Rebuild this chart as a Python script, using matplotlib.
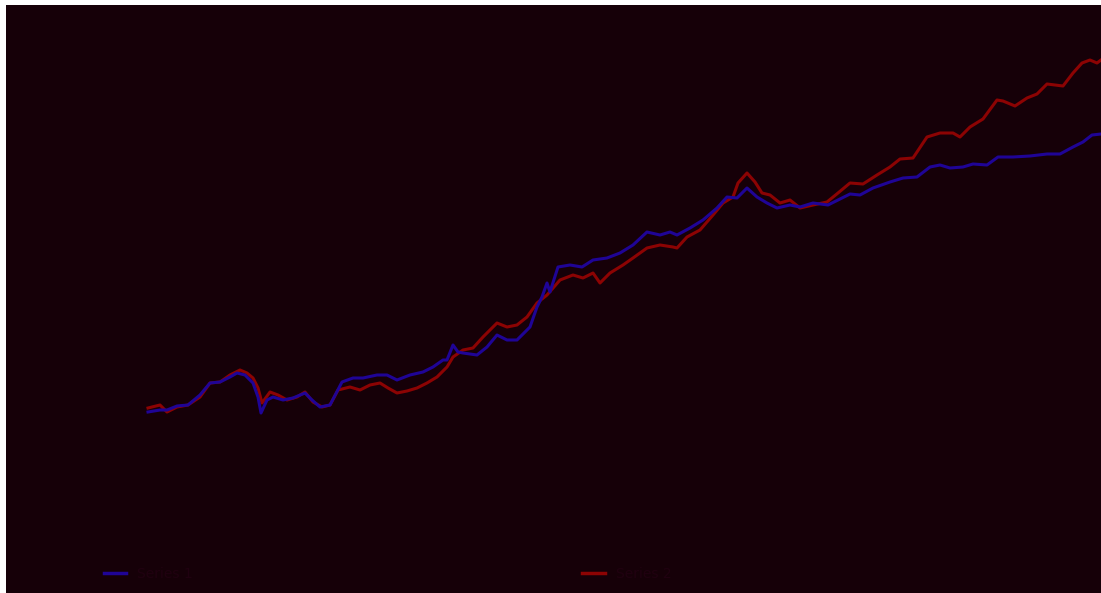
import matplotlib
matplotlib.use("Agg")
import matplotlib.pyplot as plt
from matplotlib.lines import Line2D

# period index (x) and index level (y) for each series
x_red = [148, 160, 167, 177, 188, 200, 210, 220, 230, 240, 247, 253, 258, 262, 270, 278,
         287, 297, 305, 313, 322, 330, 338, 350, 360, 370, 380, 388, 397, 407, 417, 427,
         437, 447, 453, 463, 473, 483, 497, 507, 517, 527, 537, 547, 560, 573, 583, 593,
         600, 610, 623, 633, 647, 660, 673, 677, 687, 700, 713, 723, 733, 738, 747, 755,
         762, 770, 780, 790, 800, 813, 827, 838, 850, 863, 877, 890, 900, 913, 927, 940,
         953, 960, 970, 983, 997, 1003, 1015, 1027, 1037, 1047, 1063, 1073, 1082, 1090,
         1097, 1101]
y_red_px = [408, 405, 412, 407, 405, 397, 383, 382, 375, 370, 373, 378, 388, 403, 392, 395,
            400, 397, 392, 402, 407, 405, 390, 387, 390, 385, 383, 388, 393, 391, 388, 383,
            377, 367, 357, 350, 348, 337, 323, 327, 325, 317, 303, 295, 280, 275, 278, 273,
            283, 273, 265, 258, 248, 245, 247, 248, 237, 230, 215, 203, 197, 183, 173, 182,
            193, 195, 203, 200, 208, 205, 202, 193, 183, 184, 175, 167, 159, 158, 137, 133,
            133, 137, 127, 119, 100, 101, 106, 98, 94, 84, 86, 73, 63, 60, 63, 60]

x_blue = [148, 160, 167, 177, 188, 200, 210, 220, 230, 237, 245, 253, 258, 261, 267, 273,
          283, 293, 305, 312, 320, 330, 342, 353, 363, 377, 387, 397, 410, 423, 433, 443,
          447, 453, 458, 463, 477, 487, 497, 507, 517, 530, 537, 542, 547, 550, 558, 570,
          582, 593, 607, 620, 633, 647, 660, 670, 677, 690, 703, 717, 727, 737, 747, 757,
          767, 777, 790, 800, 813, 828, 840, 850, 860, 873, 890, 903, 917, 930, 940, 950,
          963, 973, 987, 998, 1013, 1030, 1047, 1060, 1073, 1083, 1092, 1101]
y_blue_px = [412, 410, 410, 406, 405, 395, 383, 382, 377, 373, 375, 383, 397, 413, 400, 397,
             400, 398, 393, 400, 407, 405, 382, 378, 378, 375, 375, 380, 375, 372, 367, 360,
             360, 345, 352, 353, 355, 347, 335, 340, 340, 327, 307, 297, 283, 292, 267, 265,
             267, 260, 258, 253, 245, 232, 235, 232, 235, 228, 220, 208, 197, 198, 188, 197,
             203, 208, 205, 207, 203, 205, 199, 194, 195, 188, 182, 178, 177, 167, 165, 168,
             167, 164, 165, 157, 157, 156, 154, 154, 147, 142, 135, 134]

H = 593
y_red = [H - v for v in y_red_px]
y_blue = [H - v for v in y_blue_px]

BG = "#160008"
RED = "#8c0303"
BLUE = "#1f0496"

fig = plt.figure(figsize=(11.01, 5.93), dpi=100, facecolor="white")
ax = fig.add_axes([6 / 1101, 0, 1 - 6 / 1101, 588 / 593])
ax.set_facecolor(BG)
ax.plot(x_red, y_red, color=RED, lw=2.2, solid_joinstyle="round")
ax.plot(x_blue, y_blue, color=BLUE, lw=2.2, solid_joinstyle="round")
ax.set_xlim(6, 1101)
ax.set_ylim(0, 588)
ax.set_xticks([])
ax.set_yticks([])
for s in ax.spines.values():
    s.set_visible(False)

leg1 = ax.legend(handles=[Line2D([], [], color=BLUE, lw=2.5)], labels=["Series 1"],
                 loc="lower left", bbox_to_anchor=(0.078, 0.0), frameon=False,
                 handlelength=1.6, labelcolor="#200010", fontsize=10)
ax.add_artist(leg1)
ax.legend(handles=[Line2D([], [], color=RED, lw=2.5)], labels=["Series 2"],
          loc="lower left", bbox_to_anchor=(0.515, 0.0), frameon=False,
          handlelength=1.6, labelcolor="#200010", fontsize=10)

fig.savefig("out.png", dpi=100, facecolor="white")
